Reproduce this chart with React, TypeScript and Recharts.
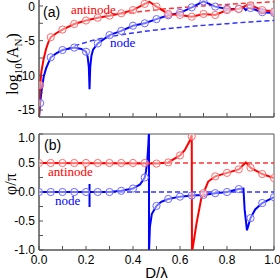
import React from 'react';
import { LineChart, Line, XAxis, YAxis, ReferenceArea, Label } from 'recharts';

// ---------- shared ----------
const xTicks = [0, 0.1, 0.2, 0.3, 0.4, 0.5, 0.6, 0.7, 0.8, 0.9, 1.0];
const aYTicks = [-15, -12.5, -10, -7.5, -5, -2.5, 0];
const bYTicks = [-1, -0.75, -0.5, -0.25, 0, 0.25, 0.5, 0.75, 1];

// ---------- panel (a): log10(A_N) ----------
const aMarkerD = [0.005, 0.05, 0.1, 0.15, 0.2, 0.25, 0.3, 0.35, 0.4, 0.45, 0.5, 0.55, 0.6, 0.65, 0.7, 0.75, 0.8, 0.85, 0.9, 0.95, 1.0];
const aAntinodeMarkers = [-11.4, -4.5, -3.4, -2.6, -2.1, -1.7, -1.4, -1.05, -0.6, 0.3, -0.1, -1.15, -1.3, -1.55, -1.15, -1.3, -0.6, -0.45, 0.1, -0.6, -0.8];
const aNodeMarkers = [-14.0, -7.4, -6.35, -6.0, -6.6, -5.4, -4.2, -3.6, -2.85, -2.5, -1.9, -1.35, -1.0, -0.2, 0.65, -0.1, -0.43, -0.4, -0.3, -0.9, -1.0];

const aAntinodeD = [0, 0.005, 0.01, 0.02, 0.03, 0.04, 0.05, 0.075, 0.1, 0.15, 0.2, 0.25, 0.3, 0.35, 0.4, 0.45, 0.47, 0.5, 0.55, 0.6, 0.65, 0.7, 0.75, 0.8, 0.85, 0.89, 0.9, 0.95, 1.0];
const aAntinodeV = [-16, -11.4, -9.5, -7.6, -6.2, -5.2, -4.5, -3.9, -3.4, -2.6, -2.1, -1.7, -1.4, -1.05, -0.6, 0.3, 0.6, -0.1, -1.15, -1.3, -1.55, -1.15, -1.3, -0.6, -0.45, 0.2, 0.1, -0.6, -0.8];

const aNodeD = [0, 0.005, 0.01, 0.02, 0.03, 0.05, 0.075, 0.1, 0.15, 0.18, 0.2, 0.207, 0.212, 0.215, 0.218, 0.223, 0.23, 0.25, 0.3, 0.35, 0.4, 0.45, 0.5, 0.55, 0.6, 0.65, 0.7, 0.75, 0.8, 0.85, 0.87, 0.88, 0.89, 0.9, 0.95, 1.0];
const aNodeV = [-16, -14.0, -12.4, -10.2, -9.0, -7.4, -6.8, -6.35, -6.0, -6.2, -6.6, -7.3, -8.8, -12.0, -8.8, -7.2, -6.3, -5.4, -4.2, -3.6, -2.85, -2.5, -1.9, -1.35, -1.0, -0.2, 0.65, -0.1, -0.43, -0.4, -0.2, -0.6, -0.3, -0.3, -0.9, -1.0];

const aNodeDashD = [0.12, 0.15, 0.2, 0.3, 0.4, 0.5, 0.6, 0.7, 0.8, 0.9, 1.0];
const aNodeDashV = [-6.25, -5.8, -5.25, -4.45, -3.9, -3.45, -3.1, -2.8, -2.55, -2.3, -2.1];
const aAntinodeDashD = [0.35, 0.4, 0.5, 0.6, 0.7, 0.8, 0.9, 1.0];
const aAntinodeDashV = [-1.15, -0.95, -0.55, -0.25, 0.0, 0.22, 0.42, 0.6];

// ---------- panel (b): phi/pi ----------
const bMarkerD = [0, 0.05, 0.1, 0.15, 0.2, 0.25, 0.3, 0.35, 0.4, 0.45, 0.5, 0.55, 0.6, 0.65, 0.7, 0.75, 0.8, 0.85, 0.9, 0.95, 1.0];
const bAntinodeMarkers = [0.5, 0.5, 0.5, 0.5, 0.5, 0.5, 0.5, 0.5, 0.5, 0.5, 0.49, 0.51, 0.63, 0.96, -0.02, 0.27, 0.33, 0.39, 0.42, 0.31, 0.24];
const bNodeMarkers = [0, 0, 0, 0, 0, 0, 0, 0.02, 0.06, 0.25, -0.24, -0.12, -0.08, -0.06, -0.05, -0.02, 0.0, 0.05, -0.45, -0.19, -0.09];

const bAntinodeD = [0, 0.5, 0.55, 0.6, 0.62, 0.64, 0.65, 0.651, 0.67, 0.69, 0.7, 0.72, 0.75, 0.8, 0.85, 0.88, 0.9, 0.95, 1.0];
const bAntinodeV = [0.5, 0.49, 0.51, 0.63, 0.72, 0.87, 0.98, -1.05, -0.55, -0.12, -0.02, 0.18, 0.27, 0.33, 0.39, 0.51, 0.42, 0.31, 0.24];

const bNodeD = [0, 0.2149, 0.215, 0.215, 0.2151, 0.3, 0.35, 0.4, 0.43, 0.45, 0.455, 0.46, 0.465, 0.468, 0.468, 0.472, 0.48, 0.5, 0.52, 0.55, 0.6, 0.65, 0.7, 0.75, 0.8, 0.85, 0.87, 0.875, 0.885, 0.9, 0.92, 0.95, 1.0];
const bNodeV = [0, 0, 0.14, -0.26, 0, 0, 0.02, 0.06, 0.13, 0.25, 0.35, 0.5, 0.8, 1.05, -1.05, -0.6, -0.38, -0.24, -0.17, -0.12, -0.08, -0.06, -0.05, -0.02, 0.0, 0.05, 0.06, -0.3, -0.66, -0.45, -0.3, -0.19, -0.09];

const bDashD = [0, 1];
const bAntinodeDashV = [0.5, 0.5];
const bNodeDashV = [0, 0];

// ---------- helpers ----------
const zip = (xs: number[], ys: number[]) => xs.map((x, i) => ({ x, y: ys[i] }));

const RED = '#ff0000';
const BLUE = '#0000ff';
const RED_M = '#ff6a6a';
const BLUE_M = '#6a6aff';
const AXIS = '#555555';
const SANS = "'Liberation Sans', Arial, sans-serif";
const SERIF = "'Liberation Serif', 'Times New Roman', serif";

const tickStyle = { fontSize: 12, fill: '#000', fontFamily: SANS };

const LogLabel = () => (
  <text x={18} y={65} transform="rotate(-90, 18, 65)" textAnchor="middle" fontFamily={SERIF} fontSize={16} fill="#000">
    log
    <tspan dy={4} fontSize={11}>10</tspan>
    <tspan dy={-4}>(A</tspan>
    <tspan dy={4} fontSize={11}>N</tspan>
    <tspan dy={-4}>)</tspan>
  </text>
);

const PhiLabel = () => (
  <text x={16} y={54} transform="rotate(-90, 16, 54)" textAnchor="middle" fontFamily={SERIF} fontSize={16} fill="#000">
    φ/π
  </text>
);

const markerDot = (color: string) => ({ r: 3.6, stroke: color, strokeWidth: 1, fill: '#fff', fillOpacity: 0.45 });

export default function App() {
  return (
    <div style={{ position: 'absolute', left: 0, top: 0, width: 280, height: 280, overflow: 'hidden', background: '#fff' }}>
      {/* Panel (a) */}
      <div style={{ position: 'absolute', left: 0, top: -1 }}>
        <LineChart width={280} height={130} margin={{ top: 0, right: 6, bottom: 0, left: 0 }}>
          <XAxis
            type="number"
            dataKey="x"
            domain={[0, 1]}
            ticks={xTicks}
            tickFormatter={() => ''}
            tickSize={-4}
            height={12}
            axisLine={{ stroke: AXIS }}
            tickLine={{ stroke: AXIS }}
            allowDataOverflow
          />
          <YAxis
            type="number"
            domain={[-16, 1]}
            ticks={aYTicks}
            allowDataOverflow
            width={39}
            tickSize={-4}
            tickMargin={8}
            tick={tickStyle}
            tickFormatter={(v: number) => (v % 5 === 0 ? String(v) : '')}
            axisLine={{ stroke: AXIS }}
            tickLine={{ stroke: AXIS }}
            label={<LogLabel />}
          />
          <ReferenceArea x1={0} x2={1} y1={-16} y2={1} fill="none" stroke={AXIS} strokeWidth={1} />
          <Line data={zip(aNodeDashD, aNodeDashV)} dataKey="y" type="monotone" stroke="#3333ff" strokeWidth={1.5} strokeDasharray="5 3" dot={false} isAnimationActive={false} />
          <Line data={zip(aAntinodeDashD, aAntinodeDashV)} dataKey="y" type="monotone" stroke="#ff3333" strokeWidth={1.5} strokeDasharray="5 3" dot={false} isAnimationActive={false} />
          <Line data={zip(aNodeD, aNodeV)} dataKey="y" type="linear" stroke={BLUE} strokeWidth={2} dot={false} isAnimationActive={false} />
          <Line data={zip(aAntinodeD, aAntinodeV)} dataKey="y" type="linear" stroke={RED} strokeWidth={2} dot={false} isAnimationActive={false} />
          <Line data={zip(aMarkerD, aNodeMarkers)} dataKey="y" stroke="none" dot={markerDot(BLUE_M)} isAnimationActive={false} />
          <Line data={zip(aMarkerD, aAntinodeMarkers)} dataKey="y" stroke="none" dot={markerDot(RED_M)} isAnimationActive={false} />
        </LineChart>
      </div>

      {/* Panel (b) */}
      <div style={{ position: 'absolute', left: 0, top: 130 }}>
        <LineChart width={280} height={150} margin={{ top: 4, right: 6, bottom: 0, left: 0 }}>
          <XAxis
            type="number"
            dataKey="x"
            domain={[0, 1]}
            ticks={xTicks}
            tickFormatter={(v: number) => (Math.round(v * 10) % 2 === 0 ? v.toFixed(1) : '')}
            tickSize={-4}
            tickMargin={9}
            height={30}
            tick={tickStyle}
            axisLine={{ stroke: AXIS }}
            tickLine={{ stroke: AXIS }}
            allowDataOverflow
          >
            <Label value="D/λ" position="insideBottom" offset={2} fontSize={15} fontFamily={SANS} fill="#000" />
          </XAxis>
          <YAxis
            type="number"
            domain={[-1, 1]}
            ticks={bYTicks}
            allowDataOverflow
            width={39}
            tickSize={-4}
            tickMargin={8}
            tick={tickStyle}
            tickFormatter={(v: number) => (Math.round(v * 4) % 2 === 0 ? v.toFixed(1) : '')}
            axisLine={{ stroke: AXIS }}
            tickLine={{ stroke: AXIS }}
            label={<PhiLabel />}
          />
          <ReferenceArea x1={0} x2={1} y1={-1} y2={1} fill="none" stroke={AXIS} strokeWidth={1} />
          <Line data={zip(bDashD, bNodeDashV)} dataKey="y" type="linear" stroke="#3333ff" strokeWidth={1.5} strokeDasharray="5 3" dot={false} isAnimationActive={false} />
          <Line data={zip(bDashD, bAntinodeDashV)} dataKey="y" type="linear" stroke="#ff3333" strokeWidth={1.5} strokeDasharray="5 3" dot={false} isAnimationActive={false} />
          <Line data={zip(bNodeD, bNodeV)} dataKey="y" type="linear" stroke={BLUE} strokeWidth={2} dot={false} isAnimationActive={false} />
          <Line data={zip(bAntinodeD, bAntinodeV)} dataKey="y" type="linear" stroke={RED} strokeWidth={2} dot={false} isAnimationActive={false} />
          <Line data={zip(bMarkerD, bNodeMarkers)} dataKey="y" stroke="none" dot={markerDot(BLUE_M)} isAnimationActive={false} />
          <Line data={zip(bMarkerD, bAntinodeMarkers)} dataKey="y" stroke="none" dot={markerDot(RED_M)} isAnimationActive={false} />
        </LineChart>
      </div>

      {/* Annotations */}
      <svg width={280} height={280} style={{ position: 'absolute', left: 0, top: 0, pointerEvents: 'none' }}>
        <text x={43} y={17} fontFamily={SANS} fontSize={14} fill="#000">(a)</text>
        <text x={71} y={14} fontFamily={SERIF} fontSize={13} fill={RED}>antinode</text>
        <text x={110} y={47} fontFamily={SERIF} fontSize={13} fill={BLUE}>node</text>
        <text x={44} y={150} fontFamily={SANS} fontSize={14} fill="#000">(b)</text>
        <text x={48} y={176} fontFamily={SERIF} fontSize={13} fill={RED}>antinode</text>
        <text x={55} y={205} fontFamily={SERIF} fontSize={13} fill={BLUE}>node</text>
      </svg>
    </div>
  );
}
